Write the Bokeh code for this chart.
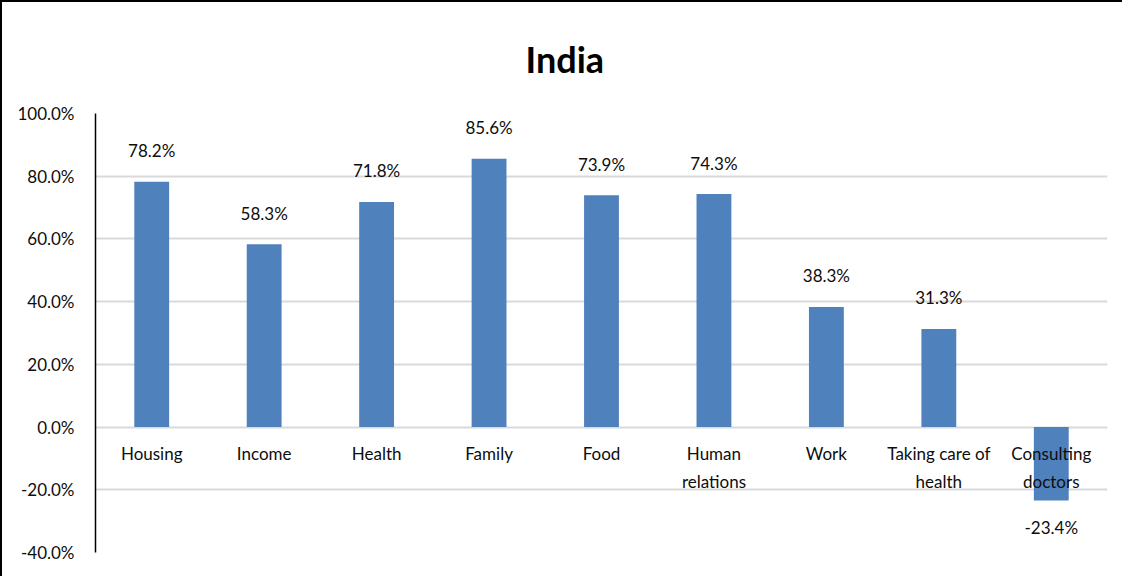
from bokeh.plotting import figure
from bokeh.models import ColumnDataSource, FactorRange, Range1d, FixedTicker, PrintfTickFormatter
from bokeh.core.properties import value
from bokeh.embed import file_html
from bokeh.resources import INLINE

categories = ["Housing", "Income", "Health", "Family", "Food", "Human relations",
              "Work", "Taking care of health", "Consulting doctors"]
cat_labels = ["Housing", "Income", "Health", "Family", "Food", "Human\nrelations",
              "Work", "Taking care of\nhealth", "Consulting\ndoctors"]
values = [78.2, 58.3, 71.8, 85.6, 73.9, 74.3, 38.3, 31.3, -23.4]
y_ticks = [-40, -20, 0, 20, 40, 60, 80, 100]

FONT = "Lato"
FS = "17px"
TXT = "#0d0d0d"

p = figure(width=1122, height=576, output_backend="svg", toolbar_location=None,
           x_range=FactorRange(factors=categories, range_padding=0),
           y_range=Range1d(-40, 100),
           min_border_left=93, min_border_right=17, min_border_top=110, min_border_bottom=26,
           title="India")
p.styles = {"border-left": "2px solid black", "border-top": "2px solid black"}

p.title.align = "left"
p.title.text_font = FONT
p.title.text_font_size = "36px"
p.title.text_font_style = "bold"
p.title.text_color = "#000000"
p.title.standoff = 65
p.title.offset = 430

src = ColumnDataSource(dict(cat=categories, val=values, lab=cat_labels, zero=[0] * len(values)))

p.vbar(x="cat", top="val", bottom=0, width=0.31, source=src,
       fill_color="#4F81BD", line_color=None)

# category labels just below zero line
p.text(x="cat", y="zero", text="lab", source=src, text_align="center", text_baseline="top",
       y_offset=16, text_font=value(FONT), text_font_size=FS, text_color=TXT,
       text_line_height=1.35)

# value labels
pos_src = ColumnDataSource(dict(cat=[c for c, v in zip(categories, values) if v >= 0],
                                val=[v for v in values if v >= 0],
                                txt=["%.1f%%" % v for v in values if v >= 0]))
neg_src = ColumnDataSource(dict(cat=[c for c, v in zip(categories, values) if v < 0],
                                val=[v for v in values if v < 0],
                                txt=["%.1f%%" % v for v in values if v < 0]))
p.text(x="cat", y="val", text="txt", source=pos_src, text_align="center", text_baseline="middle",
       y_offset=-31, text_font=value(FONT), text_font_size=FS, text_color=TXT)
p.text(x="cat", y="val", text="txt", source=neg_src, text_align="center", text_baseline="middle",
       y_offset=27, text_font=value(FONT), text_font_size=FS, text_color=TXT)

p.xaxis.visible = False
p.xgrid.grid_line_color = None
p.ygrid.ticker = FixedTicker(ticks=y_ticks)
p.ygrid.grid_line_color = "#d9d9d9"
p.ygrid.grid_line_width = 2

ya = p.yaxis[0]
ya.ticker = FixedTicker(ticks=y_ticks)
ya.formatter = PrintfTickFormatter(format="%.1f%%")
ya.axis_line_color = "black"
ya.axis_line_width = 1.5
ya.major_tick_line_color = None
ya.minor_tick_line_color = None
ya.major_label_standoff = 15
ya.major_label_text_font = FONT
ya.major_label_text_font_size = FS
ya.major_label_text_color = TXT

p.outline_line_color = None
p.background_fill_color = "white"
p.border_fill_color = "white"

open("out.html", "w").write(file_html(p, INLINE))
